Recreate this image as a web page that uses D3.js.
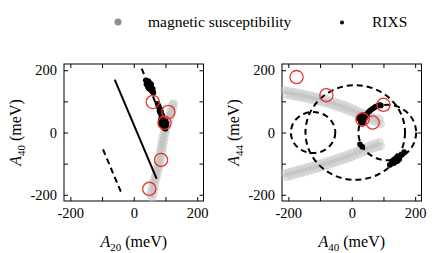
<!DOCTYPE html>
<html><head><meta charset="utf-8">
<script src="https://cdn.jsdelivr.net/npm/d3@7/dist/d3.min.js"></script>
<style>html,body{margin:0;padding:0;background:#fff;}svg, svg text{font-family:"Liberation Serif","Times New Roman",Times,"DejaVu Serif",serif !important;}</style>
</head><body>
<svg id="c" width="436" height="253"></svg>
<script>
// ---------- data ----------
const tickValues = [-200, -100, 0, 100, 200];
const tickLabels = ["-200", "", "0", "", "200"];
const legendLabels = ["magnetic susceptibility", "RIXS"];

// Left panel (A20, A40)
const leftSusc = [
  [58,-212],[52,-200],[62,-198],[55,-188],[64,-185],[58,-175],[66,-172],[60,-162],[68,-160],[64,-150],
  [71,-148],[67,-138],[74,-136],[70,-126],[77,-124],[73,-114],[80,-112],[76,-102],[83,-100],[79,-90],
  [85,-88],[80,-78],[87,-76],[82,-66],[89,-64],[84,-54],[91,-52],[86,-42],[93,-40],[88,-30],
  [95,-28],[90,-18],[97,-16],[93,-6],[100,-4],[96,6],[103,8],[99,18],[106,20],[102,30],
  [110,32],[106,42],[114,44],[110,54],[118,56],[114,66],[122,68],[118,78],[125,80],[122,90],[126,94]
];
const leftRixs = [
  [38,168],[42,162],[45,158],[40,155],[48,152],[44,148],[50,146],[53,150],[47,142],[55,143],
  [52,138],[57,136],[60,140],[58,132],[62,128],[50,160],[55,155],[46,165],
  [75,92],[78,86],[80,80],[83,76],[81,70],[86,68],[84,62],[88,58],[90,54],[87,50],
  [92,46],[90,40],[94,36],[91,30],[96,28],[93,22],[98,20],[95,15],[100,12],
  [85,40],[100,38],[103,30],[88,25],[102,22],[85,32]
];
const leftRed = [[60,98],[109,66],[97,31],[86,-88],[49,-181]];
const leftSolid = [[-60,170],[72,-148]];
const leftDashed = [
  [[25,205],[98,22]],
  [[-97,-54],[-40,-192]]
];

// Right panel (A40, A44)
const rightSusc = [
  [-212,136],[-200,134],[-188,131],[-176,129],[-164,127],[-152,124],[-140,122],[-128,119],[-116,116],[-104,113],
  [-92,110],[-80,107],[-68,103],[-56,99],[-44,95],[-32,91],[-20,87],[-8,82],[4,77],[16,72],[28,66],[40,61],[52,56],[64,51],[76,47],[88,43],
  [-206,121],[-194,119],[-182,116],[-170,114],[-158,112],[-146,109],[-134,106],[-122,104],[-110,101],[-98,98],
  [-86,95],[-74,91],[-62,87],[-50,83],[-38,79],[-26,75],[-14,70],[-2,65],[10,61],[22,55],[34,50],[46,45],[58,40],[70,35],[82,31],[92,27],
  [-212,-131],[-200,-128],[-188,-124],[-176,-121],[-164,-118],[-152,-115],[-140,-111],[-128,-108],[-116,-104],[-104,-100],
  [-92,-97],[-80,-93],[-68,-89],[-56,-85],[-44,-81],[-32,-77],[-20,-73],[-8,-68],[4,-63],[16,-59],[28,-53],[40,-49],[52,-43],[64,-39],[76,-35],[88,-31],
  [-206,-143],[-194,-140],[-182,-136],[-170,-133],[-158,-130],[-146,-127],[-134,-123],[-122,-120],[-110,-116],[-98,-113],
  [-86,-109],[-74,-105],[-62,-101],[-50,-97],[-38,-93],[-26,-89],[-14,-85],[-2,-80],[10,-75],[22,-70],[34,-65],[46,-60],[58,-55],[70,-51],[82,-47],[92,-44]
];
const rightRixs = [
  [25,50],[30,45],[35,40],[28,35],[38,48],[33,55],[42,52],[27,42],[36,32],[31,28],[22,45],[40,42],[45,58],[48,55],
  [52,65],[57,70],[62,74],[68,78],[73,82],[78,84],[83,86],[88,88],[92,87],
  [26,-38],[33,-46],
  [120,-104],[125,-100],[130,-96],[135,-92],[140,-88],[145,-84],[150,-80],[155,-75],[160,-70],[165,-63],
  [128,-92],[134,-98],[138,-84],[143,-92],[147,-88],[136,-86],[142,-80],[132,-88],[150,-86],[145,-76]
];
const rightRed = [[-174,178],[-80,120],[100,89],[34,42],[66,32]];
// dashed circles: [centerX, centerY, radiusX, radiusY]
const rightCircles = [[-122,0,70,66],[11,0,157,152],[112,0,91,89]];

// ---------- drawing ----------
const FONT = "'Liberation Serif','Times New Roman',Times,'DejaVu Serif',serif";
const svg = d3.select("#c").attr("font-family", FONT);
const domain = [-220, 220];
const yRange = [201, 64];

function panel(x0, x1, xlab, ylab, labX) {
  const x = d3.scaleLinear().domain(domain).range([x0, x1]);
  const y = d3.scaleLinear().domain(domain).range(yRange);
  const g = svg.append("g");
  const fmt = d => tickLabels[tickValues.indexOf(d)];
  g.append("g").attr("transform", `translate(0,${yRange[0]})`)
    .call(d3.axisBottom(x).tickValues(tickValues).tickSizeInner(-4).tickSizeOuter(0).tickPadding(7).tickFormat(fmt));
  g.append("g").attr("transform", `translate(0,${yRange[1]})`)
    .call(d3.axisTop(x).tickValues(tickValues).tickSizeInner(-4).tickSizeOuter(0).tickFormat(""));
  g.append("g").attr("transform", `translate(${x0},0)`)
    .call(d3.axisLeft(y).tickValues(tickValues).tickSizeInner(-4).tickSizeOuter(0).tickPadding(7).tickFormat(fmt));
  g.append("g").attr("transform", `translate(${x1},0)`)
    .call(d3.axisRight(y).tickValues(tickValues).tickSizeInner(-4).tickSizeOuter(0).tickFormat(""));
  g.selectAll("g").attr("font-family", FONT);
  g.selectAll(".domain").remove();
  g.selectAll(".tick line").attr("stroke", "#000").attr("stroke-width", 1);
  g.selectAll(".tick text").attr("font-size", 14.5).attr("fill", "#000").attr("font-family", FONT);
  g.append("rect").attr("x", x0).attr("y", yRange[1]).attr("width", x1 - x0).attr("height", yRange[0] - yRange[1])
    .attr("fill", "none").attr("stroke", "#000").attr("stroke-width", 1);
  const xl = g.append("text").attr("x", (x0 + x1) / 2).attr("y", 247).attr("text-anchor", "middle")
    .attr("font-size", 16).attr("font-family", FONT);
  xl.append("tspan").attr("font-style", "italic").text("A");
  xl.append("tspan").attr("font-size", 11).attr("dy", 4).text(xlab);
  xl.append("tspan").attr("dy", -4).text(" (meV)");
  const yl = g.append("text").attr("transform", `translate(${labX},${(yRange[0] + yRange[1]) / 2}) rotate(-90)`)
    .attr("text-anchor", "middle").attr("font-size", 16).attr("font-family", FONT);
  yl.append("tspan").attr("font-style", "italic").text("A");
  yl.append("tspan").attr("font-size", 11).attr("dy", 4).text(ylab);
  yl.append("tspan").attr("dy", -4).text(" (meV)");
  const plot = g.append("g");
  return {x, y, plot};
}

function drawPoints(p, susc, rixs, red) {
  p.plot.append("g").selectAll("circle").data(susc).join("circle")
    .attr("cx", d => p.x(d[0])).attr("cy", d => p.y(d[1])).attr("r", 3.8)
    .attr("fill", "#c4c4c4").attr("fill-opacity", 0.45)
    .attr("stroke", "#a8a8a8").attr("stroke-opacity", 0.3).attr("stroke-width", 0.6);
  return () => {
    p.plot.append("g").selectAll("circle").data(rixs).join("circle")
      .attr("cx", d => p.x(d[0])).attr("cy", d => p.y(d[1])).attr("r", 2.8).attr("fill", "#000");
    p.plot.append("g").selectAll("circle").data(red).join("circle")
      .attr("cx", d => p.x(d[0])).attr("cy", d => p.y(d[1])).attr("r", 6.6)
      .attr("fill", "none").attr("stroke", "#e8352e").attr("stroke-width", 1.3);
  };
}

// Left panel
const L = panel(64, 203.5, "20", "40", 21);
const finishL = drawPoints(L, leftSusc, leftRixs, leftRed);
const line = d3.line().x(d => L.x(d[0])).y(d => L.y(d[1]));
L.plot.append("path").attr("d", line(leftSolid)).attr("stroke", "#000").attr("stroke-width", 2).attr("fill", "none");
leftDashed.forEach(seg => {
  L.plot.append("path").attr("d", line(seg)).attr("stroke", "#000").attr("stroke-width", 2)
    .attr("stroke-dasharray", "6,4").attr("fill", "none");
});
finishL();

// Right panel
const R = panel(282, 421.5, "40", "44", 239);
const finishR = drawPoints(R, rightSusc, rightRixs, rightRed);
R.plot.append("g").selectAll("ellipse").data(rightCircles).join("ellipse")
  .attr("cx", d => R.x(d[0])).attr("cy", d => R.y(d[1]))
  .attr("rx", d => R.x(d[0] + d[2]) - R.x(d[0])).attr("ry", d => R.y(d[1]) - R.y(d[1] + d[3]))
  .attr("fill", "none").attr("stroke", "#000").attr("stroke-width", 2).attr("stroke-dasharray", "6,4");
finishR();

// Legend
const lg = svg.append("g").attr("font-family", FONT);
lg.append("circle").attr("cx", 118).attr("cy", 22).attr("r", 3.5).attr("fill", "#8f8f8f");
lg.append("text").attr("x", 148).attr("y", 27).attr("font-size", 15.5).text(legendLabels[0]);
lg.append("circle").attr("cx", 342).attr("cy", 22.5).attr("r", 2).attr("fill", "#000");
lg.append("text").attr("x", 372).attr("y", 27).attr("font-size", 15.5).text(legendLabels[1]);
</script>
</body></html>
